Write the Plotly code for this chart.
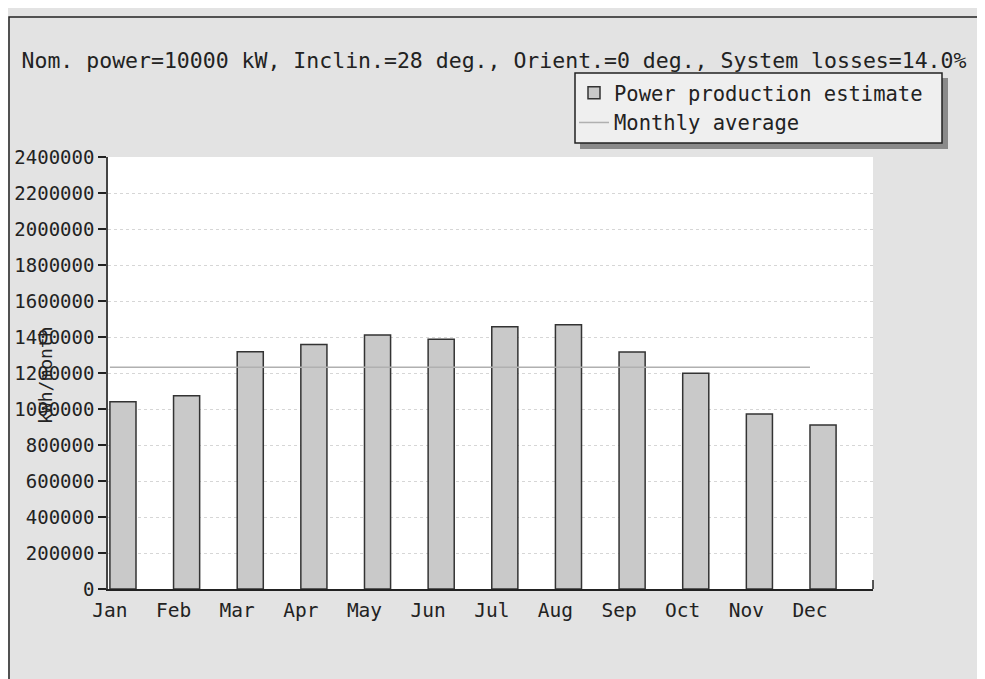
import plotly.graph_objects as go

months = ["Jan", "Feb", "Mar", "Apr", "May", "Jun", "Jul", "Aug", "Sep", "Oct", "Nov", "Dec"]
production = [1040000, 1074000, 1318000, 1358000, 1411000, 1387000, 1457000, 1468000, 1317000, 1198000, 972000, 911000]
monthly_average = 1232000
y_ticks = list(range(0, 2400001, 200000))

title_text = "Nom. power=10000 kW, Inclin.=28 deg., Orient.=0 deg., System losses=14.0%"
FONT = "DejaVu Sans Mono"

OFF = 8  # page body margin
W, H = 985 - OFF, 679 - OFF
# reference pixel positions of the plot area
RL, RR, RT, RB = 108, 873, 157, 589
L, T = RL - OFF, RT - OFF
R, B = W - (RR - OFF), H - (RB - OFF)
pw, ph = W - L - R, H - T - B


def px(x):
    return (x - OFF - L) / pw


def py(y):
    return (H - B - (y - OFF)) / ph


fig = go.Figure()
fig.add_trace(go.Bar(
    x=months, y=production, name="Power production estimate",
    offset=0, width=0.41,
    marker=dict(color="#c9c9c9", line=dict(color="#333333", width=1.5)),
))
fig.add_trace(go.Scatter(
    x=[months[0], months[-1]], y=[monthly_average, monthly_average],
    mode="lines", name="Monthly average",
    line=dict(color="#b0b0b0", width=1.5),
))

shapes = [
    # outer border
    dict(type="rect", xref="paper", yref="paper", x0=px(9), x1=px(1000), y0=py(17), y1=py(700),
         line=dict(color="#222222", width=1.5), fillcolor="rgba(0,0,0,0)", layer="below"),
    # legend shadow
    dict(type="rect", xref="paper", yref="paper", x0=px(580), x1=px(948), y0=py(78), y1=py(149),
         line=dict(width=0), fillcolor="#8a8a8a", layer="below"),
    # legend box
    dict(type="rect", xref="paper", yref="paper", x0=px(575), x1=px(942), y0=py(73), y1=py(143),
         line=dict(color="#222222", width=1.5), fillcolor="#efefef", layer="below"),
    # right end tick of x axis
    dict(type="line", xref="paper", yref="paper", x0=px(873), x1=px(873), y0=0, y1=py(580),
         line=dict(color="#222222", width=1.5)),
]

fig.update_layout(
    width=W, height=H,
    margin=dict(l=L, r=R, t=T, b=B),
    paper_bgcolor="#e3e3e3",
    plot_bgcolor="#ffffff",
    font=dict(family=FONT, size=19, color="#222222"),
    title=dict(text=title_text, x=(494 - OFF) / W, xanchor="center", y=1 - (60 - OFF) / H, yanchor="middle",
               font=dict(family=FONT, size=21.5, color="#222222")),
    showlegend=True,
    legend=dict(x=px(574), y=py(73), xanchor="left", yanchor="top",
                bgcolor="rgba(0,0,0,0)", borderwidth=0,
                font=dict(family=FONT, size=20.5, color="#222222"),
                tracegroupgap=0, itemwidth=30),
    shapes=shapes,
    annotations=[dict(text="kWh/month", xref="paper", yref="paper", x=px(45), y=py(375),
                      textangle=-90, showarrow=False, xanchor="center", yanchor="middle",
                      font=dict(family=FONT, size=18, color="#222222"))],
)
fig.update_xaxes(
    type="category", range=[-0.03, 11.99], showgrid=False, automargin=False,
    showline=True, linecolor="#222222", linewidth=1.5,
    ticks="", ticklabelstandoff=3,
    tickfont=dict(family=FONT, size=19.5, color="#222222"),
)
fig.update_yaxes(
    range=[0, 2400000], tickvals=y_ticks, tickformat="d", automargin=False,
    showline=True, linecolor="#444444", linewidth=1.5,
    ticks="outside", ticklen=8, tickcolor="#222222", tickwidth=1.5,
    ticklabelstandoff=0,
    showgrid=True, gridcolor="#d6d6d6", griddash="dot", gridwidth=1,
    zeroline=False,
    tickfont=dict(family=FONT, size=19, color="#222222"),
)

fig.write_html("out.html")
